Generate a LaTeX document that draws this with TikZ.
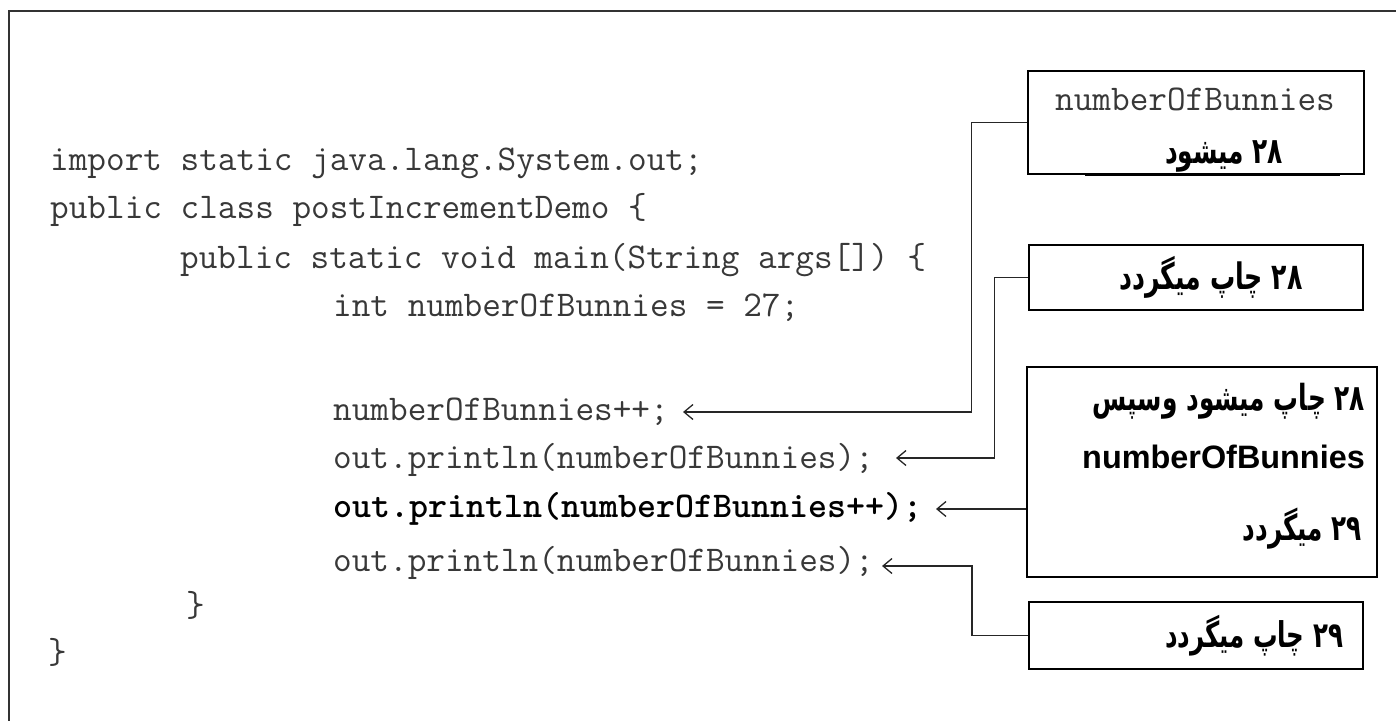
\documentclass[tikz,border=0pt]{standalone}
\usepackage{fontspec}
\usetikzlibrary{arrows.meta}
\TeXXeTstate=1
\newfontfamily\fafont[Script=Arabic]{DejaVu Sans}
\newfontfamily\arialfont{Liberation Sans}
\newcommand\fatxt[2]{\scalebox{1}[1.45]{\resizebox{#1}{!}{\fafont\bfseries #2}}}
\definecolor{codegray}{gray}{0.22}
\definecolor{linegray}{gray}{0.15}
\begin{document}
\begin{tikzpicture}[x=1pt,y=-1pt,
  code/.style={anchor=base west, inner sep=0pt, font=\ttfamily\fontsize{36.2}{40}\selectfont, text=codegray},
  codeb/.style={anchor=base west, inner sep=0pt, font=\ttfamily\bfseries\fontsize{36.2}{40}\selectfont, text=black},
  callout/.style={draw=black, line width=1.4pt, inner sep=0pt, rectangle},
  conn/.style={draw=linegray, line width=1.5pt},
  arr/.style={conn, -{Straight Barb[length=9pt,width=15pt,line width=1.3pt]}},
  fatext/.style={inner sep=0pt}
]
\useasboundingbox (0,0) rectangle (1396,720);
% outer frame
\draw[line width=2.5pt, draw=black!80] (9,730) -- (9,11) -- (1410,11);

% code
\node[code] (l1) at (50,170) {import static java.lang.System.out;};
\node[code] (l2) at (50,218) {public class postIncrementDemo \{};
\node[code] (l3) at (180,268) {public static void main(String args[]) \{};
\node[code] (l4) at (333,316) {int numberOfBunnies = 27;};
\node[code] (l5) at (333,420) {numberOfBunnies++;};
\node[code] (l6) at (333,468) {out.println(numberOfBunnies);};
\node[codeb] (l7) at (333,517) {out.println(numberOfBunnies++);};
\node[code] (l8) at (333,571) {out.println(numberOfBunnies);};
\node[code] (l9) at (186,616) {\}};
\node[code] (l10) at (48,663) {\}};

% callout boxes
\node[callout, minimum width=336pt, minimum height=103pt] (b1) at (1196,122.5) {};
\node[callout, minimum width=334pt, minimum height=65pt] (b2) at (1196,277.5) {};
\node[callout, line width=1.8pt, minimum width=350pt, minimum height=210pt] (b3) at (1202,472) {};
\node[callout, line width=1.8pt, minimum width=334pt, minimum height=67pt] (b4) at (1196,635.5) {};

% heavier edge pieces
\draw[line width=2.6pt] (1085,175) -- (1340,175);
\draw[line width=2.4pt] (1068,245) -- (1355,245);
\draw[line width=2.4pt] (1078,310) -- (1362,310);
\draw[line width=2.6pt] (1033,669) -- (1361,669);

% callout texts
\node[code, anchor=base] (t1a) at (1195,110) {numberOfBunnies};
\node[fatext] (t1b) at (1224,156) {\fatxt{118pt}{\beginR\beginL ۲۸\endL{} میشود\endR}};
\node[fatext] (t2) at (1211,277) {\fatxt{183pt}{\beginR\beginL ۲۸\endL{} چاپ میگردد\endR}};
\node[fatext, anchor=east] (t3a) at (1365,401) {\fatxt{272pt}{\beginR\beginL ۲۸\endL{} چاپ میشود وسپس\endR}};
\node[inner sep=0pt, anchor=base east, font=\arialfont\bfseries\fontsize{32.4}{36}\selectfont] (t3b) at (1365,468) {numberOfBunnies};
\node[fatext, anchor=east] (t3c) at (1362,529) {\fatxt{119pt}{\beginR\beginL ۲۹\endL{} میگردد\endR}};
\node[fatext] (t4) at (1254,636) {\fatxt{178pt}{\beginR\beginL ۲۹\endL{} چاپ میگردد\endR}};

% arrow tips
\coordinate (p1) at (683,412);
\coordinate (p2) at (896,458);
\coordinate (p3) at (936,509);
\coordinate (p4) at (882,566);

% connectors
\draw[arr] (b1.west) -- ++(-56,0) |- (p1);
\draw[arr] (b2.west) -- ++(-34,0) |- (p2);
\draw[arr] (b3.west |- p3) -- (p3);
\draw[arr] (b4.west) -- ++(-56,0) |- (p4);
\end{tikzpicture}
\end{document}
